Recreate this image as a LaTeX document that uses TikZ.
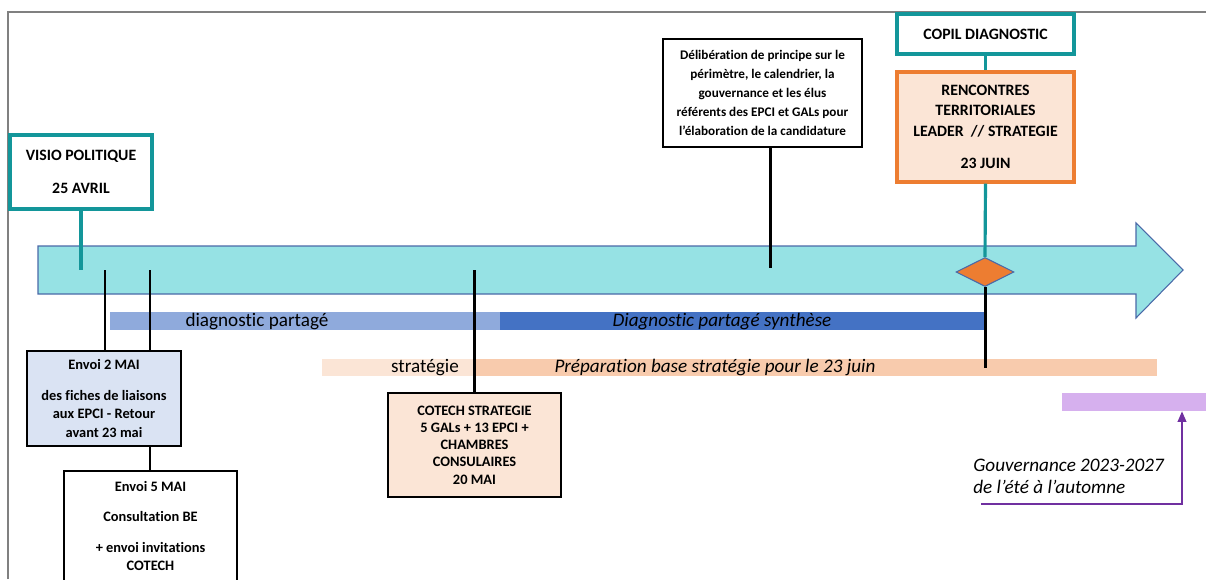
\documentclass[tikz,border=0pt]{standalone}
\usepackage{fontspec}
\setmainfont{Carlito}[Ligatures={NoCommon}]
\usetikzlibrary{shapes.geometric,arrows.meta}

\definecolor{tuerkis}{HTML}{96E2E4}
\definecolor{pfeilrand}{HTML}{4A69A8}
\definecolor{petrol}{HTML}{13969A}
\definecolor{orange}{HTML}{ED7D31}
\definecolor{pfirsich}{HTML}{FBE5D6}
\definecolor{pfirsichdunkel}{HTML}{F8CBAD}
\definecolor{hellblau}{HTML}{8FAADC}
\definecolor{dunkelblau}{HTML}{4472C4}
\definecolor{graublau}{HTML}{DAE3F3}
\definecolor{lila}{HTML}{D6B0EE}
\definecolor{violett}{HTML}{7030A0}

\begin{document}
\begin{tikzpicture}[x=0.02cm,y=-0.02cm]
	% Einstellungen für die Kästchen
	\tikzset{kasten/.style={
			draw=black, % Schwarze Umrandung
			line width=0.9pt, % Linienstärke
			fill=white, % Weiße Füllung
			font=\fontsize{8.2}{10.4}\selectfont\bfseries, % Fette Schrift
			align=center, % Text zentrieren
			inner sep=0pt
	}}
	\tikzset{tealkasten/.style={
			kasten,
			draw=petrol, % Petrol Umrandung
			line width=1.8pt,
			font=\fontsize{9}{10.8}\selectfont\bfseries
	}}
	\tikzset{orangekasten/.style={
			tealkasten,
			draw=orange, % Orange Umrandung
			fill=pfirsich,
			font=\fontsize{9}{11.6}\selectfont\bfseries
	}}
	% Striche und Balken
	\tikzset{strich/.style={draw=black, line width=1.7pt}}
	\tikzset{tealstrich/.style={draw=petrol, line width=1.8pt}}
	\tikzset{balkentext/.style={anchor=base, inner sep=0pt, font=\fontsize{10.9}{12.5}\selectfont}}

	% Zeichenfläche festlegen
	\clip (0,0) rectangle (1206,579);

	% Rahmen
	\draw[gray, line width=1pt] (8,579) -- (8,12) -- (1206,12);

	% Großer Zeitpfeil
	\draw[fill=tuerkis, draw=pfeilrand, line width=0.6pt]
		(38,246) -- (1136,246) -- (1136,223) -- (1183,270)
		-- (1136,318) -- (1136,294) -- (38,294) -- cycle;

	% Balken der Phasen
	\fill[hellblau] (110,312) rectangle (500,330);
	\fill[dunkelblau] (500,312) rectangle (985,330);
	\fill[pfirsich] (322,359) rectangle (473,376);
	\fill[pfirsichdunkel] (473,359) rectangle (1157,376);
	\node[balkentext] (tdiag) at (257,326) {diagnostic partagé};
	\node[balkentext, font=\fontsize{10.9}{12.5}\selectfont\itshape] (tsynth) at (722,326) {Diagnostic partagé synthèse};
	\node[balkentext] (tstrat) at (425,372) {stratégie};
	\node[balkentext, font=\fontsize{10.9}{12.5}\selectfont\itshape] (tprep) at (715,372) {Préparation base stratégie pour le 23 juin};
	\node[fill=lila, inner sep=0pt, minimum width=3.06cm, minimum height=0.36cm] (lila) at (1138.5,402) {};

	% Kästchen
	\node[tealkasten, minimum width=2.84cm, minimum height=1.48cm] (visio) at (81,172) {VISIO POLITIQUE\\[8pt]25 AVRIL};
	\node[kasten, fill=graublau, minimum width=3.08cm, minimum height=1.9cm] (envoiA) at (104,398.5)
		{Envoi 2 MAI\\[7pt]des fiches de liaisons\\aux EPCI - Retour\\avant 23 mai};
	\node[kasten, minimum width=3.46cm, minimum height=2.2cm] (envoiB) at (150.5,526)
		{Envoi 5 MAI\\[7pt]Consultation BE\\[7pt]+ envoi invitations\\COTECH};
	\node[kasten, fill=pfirsich, font=\fontsize{8.2}{9.8}\selectfont\bfseries, minimum width=3.46cm, minimum height=2.08cm] (cotech) at (474.5,445)
		{COTECH STRATEGIE\\5 GALs + 13 EPCI +\\CHAMBRES\\CONSULAIRES\\20 MAI};
	\node[kasten, font=\fontsize{7.5}{10.8}\selectfont\bfseries, minimum width=3.98cm, minimum height=2.16cm] (delib) at (762.5,93)
		{Délibération de principe sur le\\périmètre, le calendrier, la\\gouvernance et les élus\\référents des EPCI et GALs pour\\l’élaboration de la candidature};
	\node[tealkasten, minimum width=3.54cm, minimum height=0.8cm] (copil) at (985.5,34) {COPIL DIAGNOSTIC};
	\node[orangekasten, minimum width=3.54cm, minimum height=2.2cm] (rencontres) at (985.5,127)
		{RENCONTRES\\TERRITORIALES\\LEADER~~// STRATEGIE\\[7pt]23 JUIN};

	% Punkte auf dem Zeitpfeil
	\coordinate (v1) at (81,270);
	\coordinate (e1) at (105,270);
	\coordinate (e2) at (150,270);
	\coordinate (c1) at (474.5,270);
	\coordinate (d1) at (770,268);
	\coordinate (r1) at (985,368);

	% Verbindungen
	\draw[tealstrich] (visio.south) -- (v1);
	\draw[strich] (e1) -- (e1 |- envoiA.north);
	\draw[strich] (e2) -- (e2 |- envoiA.north);
	\draw[strich] (e2 |- envoiA.south) -- (e2 |- envoiB.north);
	\draw[strich] (c1) -- (cotech.north);
	\draw[strich] (d1 |- delib.south) -- (d1);
	\draw[tealstrich] (copil.south) -- (rencontres.north);

	% Raute für den 23 Juni
	\node[diamond, aspect=2, inner sep=0pt, minimum width=1.16cm, minimum height=0.58cm,
		fill=orange, draw=pfeilrand, line width=0.6pt] (raute) at (985,272) {};
	\draw[tealstrich] (rencontres.south) -- (raute.north);
	\draw[strich] (raute.south) -- (r1);

	% Gouvernance mit Pfeil
	\node[anchor=west, align=left, inner sep=0pt, font=\fontsize{10.9}{12.5}\selectfont\itshape] (gouv) at (973,476)
		{Gouvernance 2023-2027\\de l’été à l’automne};
	\coordinate (g1) at (981,504);
	\coordinate (g2) at (1182,504);
	\draw[violett, line width=0.8pt, -{Triangle[width=5pt,length=6pt]}] (g1) -- (g2) -- (g2 |- lila.south);
\end{tikzpicture}
\end{document}
